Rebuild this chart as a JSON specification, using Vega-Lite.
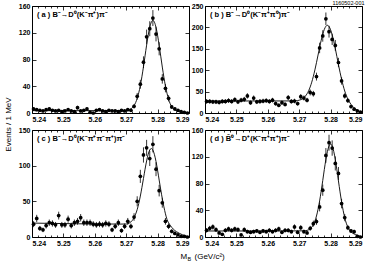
{
"$schema":"https://vega.github.io/schema/vega-lite/v6.json",
"padding":{"left":3,"top":0,"right":0,"bottom":0},
"background":"white",
"bounds":"flush",
"columns":2,
"spacing":{"row":17,"column":16},
"datasets":{
"pa":[{"m":5.2405,"n":6,"e":2.4},{"m":5.2415,"n":5,"e":2.2},{"m":5.2425,"n":4,"e":2},{"m":5.2435,"n":3,"e":1.7},{"m":5.2445,"n":5,"e":2.2},{"m":5.2455,"n":6,"e":2.4},{"m":5.2465,"n":4,"e":2},{"m":5.2475,"n":3,"e":1.7},{"m":5.2485,"n":4,"e":2},{"m":5.2495,"n":2,"e":1.4},{"m":5.2505,"n":3,"e":1.7},{"m":5.2515,"n":5,"e":2.2},{"m":5.2525,"n":3,"e":1.7},{"m":5.2535,"n":2,"e":1.4},{"m":5.2545,"n":8,"e":2.8},{"m":5.2555,"n":3,"e":1.7},{"m":5.2565,"n":4,"e":2},{"m":5.2575,"n":6,"e":2.4},{"m":5.2585,"n":1,"e":1},{"m":5.2595,"n":0,"e":0},{"m":5.2605,"n":4,"e":2},{"m":5.2615,"n":5,"e":2.2},{"m":5.2625,"n":3,"e":1.7},{"m":5.2635,"n":2,"e":1.4},{"m":5.2645,"n":4,"e":2},{"m":5.2655,"n":3,"e":1.7},{"m":5.2665,"n":3,"e":1.7},{"m":5.2675,"n":2,"e":1.4},{"m":5.2685,"n":4,"e":2},{"m":5.2695,"n":3,"e":1.7},{"m":5.2705,"n":5,"e":2.2},{"m":5.2715,"n":4,"e":2},{"m":5.2725,"n":10,"e":3.2},{"m":5.2735,"n":25,"e":5},{"m":5.2745,"n":43,"e":6.6},{"m":5.2755,"n":76,"e":8.7},{"m":5.2765,"n":114,"e":10.7},{"m":5.2775,"n":126,"e":11.2},{"m":5.2785,"n":142,"e":11.9},{"m":5.2795,"n":118,"e":10.9},{"m":5.2805,"n":96,"e":9.8},{"m":5.2815,"n":51,"e":7.1},{"m":5.2825,"n":37,"e":6.1},{"m":5.2835,"n":22,"e":4.7},{"m":5.2845,"n":9,"e":3},{"m":5.2855,"n":6,"e":2.4},{"m":5.2865,"n":4,"e":2},{"m":5.2875,"n":2,"e":1.4},{"m":5.2885,"n":1,"e":1},{"m":5.2895,"n":0,"e":0}],
"pb":[{"m":5.2405,"n":27,"e":5.2},{"m":5.2415,"n":27,"e":5.2},{"m":5.2425,"n":26,"e":5.1},{"m":5.2435,"n":26,"e":5.1},{"m":5.2445,"n":25,"e":5},{"m":5.2455,"n":27,"e":5.2},{"m":5.2465,"n":27,"e":5.2},{"m":5.2475,"n":29,"e":5.4},{"m":5.2485,"n":27,"e":5.2},{"m":5.2495,"n":31,"e":5.6},{"m":5.2505,"n":26,"e":5.1},{"m":5.2515,"n":30,"e":5.5},{"m":5.2525,"n":32,"e":5.7},{"m":5.2535,"n":40,"e":6.3},{"m":5.2545,"n":24,"e":4.9},{"m":5.2555,"n":35,"e":5.9},{"m":5.2565,"n":26,"e":5.1},{"m":5.2575,"n":27,"e":5.2},{"m":5.2585,"n":28,"e":5.3},{"m":5.2595,"n":29,"e":5.4},{"m":5.2605,"n":27,"e":5.2},{"m":5.2615,"n":30,"e":5.5},{"m":5.2625,"n":22,"e":4.7},{"m":5.2635,"n":18,"e":4.2},{"m":5.2645,"n":24,"e":4.9},{"m":5.2655,"n":20,"e":4.5},{"m":5.2665,"n":36,"e":6},{"m":5.2675,"n":27,"e":5.2},{"m":5.2685,"n":28,"e":5.3},{"m":5.2695,"n":22,"e":4.7},{"m":5.2705,"n":38,"e":6.2},{"m":5.2715,"n":35,"e":5.9},{"m":5.2725,"n":30,"e":5.5},{"m":5.2735,"n":48,"e":6.9},{"m":5.2745,"n":45,"e":6.7},{"m":5.2755,"n":85,"e":9.2},{"m":5.2765,"n":152,"e":12.3},{"m":5.2775,"n":180,"e":13.4},{"m":5.2785,"n":220,"e":14.8},{"m":5.2795,"n":190,"e":13.8},{"m":5.2805,"n":172,"e":13.1},{"m":5.2815,"n":158,"e":12.6},{"m":5.2825,"n":118,"e":10.9},{"m":5.2835,"n":75,"e":8.7},{"m":5.2845,"n":40,"e":6.3},{"m":5.2855,"n":29,"e":5.4},{"m":5.2865,"n":15,"e":3.9},{"m":5.2875,"n":9,"e":3},{"m":5.2885,"n":5,"e":2.2},{"m":5.2895,"n":2,"e":1.4}],
"pc":[{"m":5.2405,"n":18,"e":4.2},{"m":5.2415,"n":26,"e":5.1},{"m":5.2425,"n":12,"e":3.5},{"m":5.2435,"n":10,"e":3.2},{"m":5.2445,"n":16,"e":4},{"m":5.2455,"n":20,"e":4.5},{"m":5.2465,"n":19,"e":4.4},{"m":5.2475,"n":17,"e":4.1},{"m":5.2485,"n":30,"e":5.5},{"m":5.2495,"n":17,"e":4.1},{"m":5.2505,"n":17,"e":4.1},{"m":5.2515,"n":25,"e":5},{"m":5.2525,"n":16,"e":4},{"m":5.2535,"n":20,"e":4.5},{"m":5.2545,"n":22,"e":4.7},{"m":5.2555,"n":27,"e":5.2},{"m":5.2565,"n":20,"e":4.5},{"m":5.2575,"n":20,"e":4.5},{"m":5.2585,"n":20,"e":4.5},{"m":5.2595,"n":18,"e":4.2},{"m":5.2605,"n":17,"e":4.1},{"m":5.2615,"n":18,"e":4.2},{"m":5.2625,"n":17,"e":4.1},{"m":5.2635,"n":19,"e":4.4},{"m":5.2645,"n":18,"e":4.2},{"m":5.2655,"n":10,"e":3.2},{"m":5.2665,"n":15,"e":3.9},{"m":5.2675,"n":20,"e":4.5},{"m":5.2685,"n":9,"e":3},{"m":5.2695,"n":15,"e":3.9},{"m":5.2705,"n":22,"e":4.7},{"m":5.2715,"n":15,"e":3.9},{"m":5.2725,"n":28,"e":5.3},{"m":5.2735,"n":50,"e":7.1},{"m":5.2745,"n":85,"e":9.2},{"m":5.2755,"n":115,"e":10.7},{"m":5.2765,"n":125,"e":11.2},{"m":5.2775,"n":110,"e":10.5},{"m":5.2785,"n":130,"e":11.4},{"m":5.2795,"n":95,"e":9.7},{"m":5.2805,"n":65,"e":8.1},{"m":5.2815,"n":48,"e":6.9},{"m":5.2825,"n":22,"e":4.7},{"m":5.2835,"n":15,"e":3.9},{"m":5.2845,"n":8,"e":2.8},{"m":5.2855,"n":5,"e":2.2},{"m":5.2865,"n":3,"e":1.7},{"m":5.2875,"n":1,"e":1},{"m":5.2885,"n":1,"e":1},{"m":5.2895,"n":0,"e":0}],
"pd":[{"m":5.2405,"n":10,"e":3.2},{"m":5.2415,"n":13,"e":3.6},{"m":5.2425,"n":15,"e":3.9},{"m":5.2435,"n":11,"e":3.3},{"m":5.2445,"n":6,"e":2.4},{"m":5.2455,"n":4,"e":2},{"m":5.2465,"n":10,"e":3.2},{"m":5.2475,"n":12,"e":3.5},{"m":5.2485,"n":10,"e":3.2},{"m":5.2495,"n":12,"e":3.5},{"m":5.2505,"n":11,"e":3.3},{"m":5.2515,"n":3,"e":1.7},{"m":5.2525,"n":11,"e":3.3},{"m":5.2535,"n":8,"e":2.8},{"m":5.2545,"n":7,"e":2.6},{"m":5.2555,"n":8,"e":2.8},{"m":5.2565,"n":9,"e":3},{"m":5.2575,"n":7,"e":2.6},{"m":5.2585,"n":9,"e":3},{"m":5.2595,"n":8,"e":2.8},{"m":5.2605,"n":10,"e":3.2},{"m":5.2615,"n":8,"e":2.8},{"m":5.2625,"n":10,"e":3.2},{"m":5.2635,"n":12,"e":3.5},{"m":5.2645,"n":7,"e":2.6},{"m":5.2655,"n":10,"e":3.2},{"m":5.2665,"n":10,"e":3.2},{"m":5.2675,"n":8,"e":2.8},{"m":5.2685,"n":15,"e":3.9},{"m":5.2695,"n":7,"e":2.6},{"m":5.2705,"n":14,"e":3.7},{"m":5.2715,"n":8,"e":2.8},{"m":5.2725,"n":6,"e":2.4},{"m":5.2735,"n":13,"e":3.6},{"m":5.2745,"n":20,"e":4.5},{"m":5.2755,"n":23,"e":4.8},{"m":5.2765,"n":45,"e":6.7},{"m":5.2775,"n":70,"e":8.4},{"m":5.2785,"n":122,"e":11},{"m":5.2795,"n":141,"e":11.9},{"m":5.2805,"n":133,"e":11.5},{"m":5.2815,"n":110,"e":10.5},{"m":5.2825,"n":95,"e":9.7},{"m":5.2835,"n":50,"e":7.1},{"m":5.2845,"n":29,"e":5.4},{"m":5.2855,"n":14,"e":3.7},{"m":5.2865,"n":9,"e":3},{"m":5.2875,"n":8,"e":2.8},{"m":5.2885,"n":1,"e":1},{"m":5.2895,"n":0,"e":0}],
"ca":[{"m":5.24,"f":3.5},{"m":5.255,"f":3.5},{"m":5.2685,"f":3.6},{"m":5.2695,"f":3.7},{"m":5.2705,"f":4.3},{"m":5.2715,"f":6.2},{"m":5.2725,"f":11.1},{"m":5.273,"f":15.5},{"m":5.2735,"f":21.8},{"m":5.274,"f":30.2},{"m":5.2745,"f":41},{"m":5.275,"f":54.2},{"m":5.2755,"f":69.2},{"m":5.276,"f":85.4},{"m":5.2765,"f":101.5},{"m":5.277,"f":116.3},{"m":5.2775,"f":128.1},{"m":5.278,"f":135.8},{"m":5.2785,"f":138.5},{"m":5.279,"f":135.7},{"m":5.2795,"f":127.9},{"m":5.28,"f":116},{"m":5.2805,"f":101},{"m":5.281,"f":85},{"m":5.2815,"f":68.7},{"m":5.282,"f":53.5},{"m":5.2825,"f":40.3},{"m":5.283,"f":29.3},{"m":5.2835,"f":20.5},{"m":5.284,"f":14},{"m":5.2845,"f":9.3},{"m":5.2855,"f":4.6},{"m":5.2865,"f":2.5},{"m":5.2875,"f":1.5},{"m":5.2885,"f":0.7},{"m":5.29,"f":0}],
"cb":[{"m":5.24,"f":28},{"m":5.268,"f":28.2},{"m":5.269,"f":28.7},{"m":5.27,"f":29.9},{"m":5.271,"f":33.1},{"m":5.272,"f":39.7},{"m":5.273,"f":51.9},{"m":5.2735,"f":60.9},{"m":5.274,"f":72.1},{"m":5.2745,"f":85.5},{"m":5.275,"f":100.7},{"m":5.2755,"f":117.6},{"m":5.276,"f":135.4},{"m":5.2765,"f":153.1},{"m":5.277,"f":169.8},{"m":5.2775,"f":184.1},{"m":5.278,"f":195.4},{"m":5.2785,"f":202.5},{"m":5.279,"f":205},{"m":5.2795,"f":202},{"m":5.28,"f":194.4},{"m":5.2805,"f":182.6},{"m":5.281,"f":167.8},{"m":5.2815,"f":150.6},{"m":5.282,"f":131.9},{"m":5.2825,"f":113.1},{"m":5.283,"f":95.2},{"m":5.2835,"f":78.8},{"m":5.284,"f":64.1},{"m":5.2845,"f":51.4},{"m":5.285,"f":40.9},{"m":5.286,"f":25.7},{"m":5.287,"f":15.6},{"m":5.288,"f":8.9},{"m":5.289,"f":4.2},{"m":5.29,"f":0}],
"cc":[{"m":5.24,"f":19.5},{"m":5.255,"f":18.5},{"m":5.268,"f":18.1},{"m":5.27,"f":18.2},{"m":5.271,"f":19.6},{"m":5.272,"f":23.5},{"m":5.2725,"f":26.9},{"m":5.273,"f":32},{"m":5.2735,"f":38.5},{"m":5.274,"f":46.9},{"m":5.2745,"f":57.4},{"m":5.275,"f":69.3},{"m":5.2755,"f":82.1},{"m":5.276,"f":94.9},{"m":5.2765,"f":106.6},{"m":5.277,"f":116},{"m":5.2775,"f":122},{"m":5.278,"f":124},{"m":5.2785,"f":121.8},{"m":5.279,"f":115.4},{"m":5.2795,"f":105.8},{"m":5.28,"f":93.4},{"m":5.2805,"f":79.8},{"m":5.281,"f":66.4},{"m":5.2815,"f":53.8},{"m":5.282,"f":42.3},{"m":5.2825,"f":32.5},{"m":5.283,"f":24.6},{"m":5.2835,"f":19.9},{"m":5.284,"f":16.5},{"m":5.285,"f":11},{"m":5.286,"f":7.5},{"m":5.287,"f":5},{"m":5.288,"f":3},{"m":5.29,"f":0}],
"cd":[{"m":5.24,"f":9},{"m":5.26,"f":9},{"m":5.271,"f":9.2},{"m":5.272,"f":9.5},{"m":5.273,"f":10.8},{"m":5.274,"f":14.7},{"m":5.2745,"f":18.4},{"m":5.275,"f":23.8},{"m":5.2755,"f":31.4},{"m":5.276,"f":41.4},{"m":5.2765,"f":53.9},{"m":5.277,"f":68.5},{"m":5.2775,"f":84.5},{"m":5.278,"f":100.9},{"m":5.2785,"f":116},{"m":5.279,"f":128.2},{"m":5.2795,"f":136.2},{"m":5.28,"f":139},{"m":5.2805,"f":136},{"m":5.281,"f":128},{"m":5.2815,"f":115.8},{"m":5.282,"f":100.4},{"m":5.2825,"f":83.8},{"m":5.283,"f":67.5},{"m":5.2835,"f":52.6},{"m":5.284,"f":39.6},{"m":5.2845,"f":28.8},{"m":5.285,"f":20.6},{"m":5.2855,"f":14.7},{"m":5.286,"f":10.5},{"m":5.287,"f":5.8},{"m":5.288,"f":3.5},{"m":5.289,"f":1.8},{"m":5.29,"f":0}]
},
"concat":[
{"width":157,"height":107,
"layer":[
{"data":{"name":"ca"},"mark":{"type":"line","color":"black","strokeWidth":0.9,"interpolate":"monotone"},
"encoding":{"x":{"field":"m","type":"quantitative","scale":{"domain":[5.24,5.29],"nice":false,"zero":false},"axis":{"orient":"top","values":[5.24,5.25,5.26,5.27,5.28,5.29],"labels":false,"title":null,"tickSize":-4}},
"y":{"field":"f","type":"quantitative","scale":{"domain":[0,160],"nice":false},"axis":{"orient":"right","values":[0,40,80,120,160],"labels":false,"title":null,"tickSize":-4}}}},
{"data":{"name":"pa"},"mark":{"type":"errorbar","ticks":false,"color":"black","thickness":0.8},
"encoding":{"x":{"field":"m","type":"quantitative","scale":{"domain":[5.24,5.29],"nice":false,"zero":false},"axis":{"orient":"bottom","values":[5.242,5.244,5.246,5.248,5.252,5.254,5.256,5.258,5.262,5.264,5.266,5.268,5.272,5.274,5.276,5.278,5.282,5.284,5.286,5.288],"labels":false,"title":null,"tickSize":-2}},
"y":{"field":"n","type":"quantitative","scale":{"domain":[0,160],"nice":false},"axis":null},"yError":{"field":"e"}}},
{"data":{"name":"pa"},"mark":{"type":"point","filled":true,"color":"black","size":14,"opacity":1},
"encoding":{"x":{"field":"m","type":"quantitative","scale":{"domain":[5.24,5.29],"nice":false,"zero":false},"axis":{"orient":"bottom","values":[5.24,5.25,5.26,5.27,5.28,5.29],"format":".2f","title":null,"tickSize":-4,"labelPadding":6}},
"y":{"field":"n","type":"quantitative","scale":{"domain":[0,160],"nice":false},"axis":{"orient":"left","values":[0,40,80,120,160],"title":null,"tickSize":-4,"labelPadding":6}}}},
{"data":{"values":[{"m":5.2416,"n":146,"t":"( a )  B⁻→D⁰(K⁻π⁺)π⁻"}]},"mark":{"type":"text","align":"left","baseline":"middle","fontSize":7.5,"fontWeight":"bold","font":"Liberation Sans"},
"encoding":{"x":{"field":"m","type":"quantitative","scale":{"domain":[5.24,5.29],"nice":false,"zero":false},"axis":{"orient":"top","values":[5.242,5.244,5.246,5.248,5.252,5.254,5.256,5.258,5.262,5.264,5.266,5.268,5.272,5.274,5.276,5.278,5.282,5.284,5.286,5.288],"labels":false,"title":null,"tickSize":-2}},
"y":{"field":"n","type":"quantitative","scale":{"domain":[0,160],"nice":false},"axis":null},"text":{"field":"t"}}}
],
"resolve":{"axis":{"x":"independent","y":"independent"}}},
{"width":157,"height":107,
"layer":[
{"data":{"name":"cb"},"mark":{"type":"line","color":"black","strokeWidth":0.9,"interpolate":"monotone"},
"encoding":{"x":{"field":"m","type":"quantitative","scale":{"domain":[5.24,5.29],"nice":false,"zero":false},"axis":{"orient":"top","values":[5.24,5.25,5.26,5.27,5.28,5.29],"labels":false,"tickSize":-4,"title":"1160502-001","titleX":159,"titleY":-0.5,"titleAlign":"right","titleBaseline":"bottom","titleFontSize":5.5}},
"y":{"field":"f","type":"quantitative","scale":{"domain":[0,250],"nice":false},"axis":{"orient":"right","values":[0,50,100,150,200,250],"labels":false,"title":null,"tickSize":-4}}}},
{"data":{"name":"pb"},"mark":{"type":"errorbar","ticks":false,"color":"black","thickness":0.8},
"encoding":{"x":{"field":"m","type":"quantitative","scale":{"domain":[5.24,5.29],"nice":false,"zero":false},"axis":{"orient":"bottom","values":[5.242,5.244,5.246,5.248,5.252,5.254,5.256,5.258,5.262,5.264,5.266,5.268,5.272,5.274,5.276,5.278,5.282,5.284,5.286,5.288],"labels":false,"title":null,"tickSize":-2}},
"y":{"field":"n","type":"quantitative","scale":{"domain":[0,250],"nice":false},"axis":null},"yError":{"field":"e"}}},
{"data":{"name":"pb"},"mark":{"type":"point","filled":true,"color":"black","size":14,"opacity":1},
"encoding":{"x":{"field":"m","type":"quantitative","scale":{"domain":[5.24,5.29],"nice":false,"zero":false},"axis":{"orient":"bottom","values":[5.24,5.25,5.26,5.27,5.28,5.29],"format":".2f","title":null,"tickSize":-4,"labelPadding":6}},
"y":{"field":"n","type":"quantitative","scale":{"domain":[0,250],"nice":false},"axis":{"orient":"left","values":[0,50,100,150,200,250],"title":null,"tickSize":-4,"labelPadding":6}}}},
{"data":{"values":[{"m":5.2416,"n":228,"t":"( b )  B⁻→D⁰(K⁻π⁺π⁰)π⁻"}]},"mark":{"type":"text","align":"left","baseline":"middle","fontSize":7.5,"fontWeight":"bold","font":"Liberation Sans"},
"encoding":{"x":{"field":"m","type":"quantitative","scale":{"domain":[5.24,5.29],"nice":false,"zero":false},"axis":{"orient":"top","values":[5.242,5.244,5.246,5.248,5.252,5.254,5.256,5.258,5.262,5.264,5.266,5.268,5.272,5.274,5.276,5.278,5.282,5.284,5.286,5.288],"labels":false,"title":null,"tickSize":-2}},
"y":{"field":"n","type":"quantitative","scale":{"domain":[0,250],"nice":false},"axis":null},"text":{"field":"t"}}}
],
"resolve":{"axis":{"x":"independent","y":"independent"}}},
{"width":157,"height":107,
"layer":[
{"data":{"name":"cc"},"mark":{"type":"line","color":"black","strokeWidth":0.9,"interpolate":"monotone"},
"encoding":{"x":{"field":"m","type":"quantitative","scale":{"domain":[5.24,5.29],"nice":false,"zero":false},"axis":{"orient":"top","values":[5.24,5.25,5.26,5.27,5.28,5.29],"labels":false,"title":null,"tickSize":-4}},
"y":{"field":"f","type":"quantitative","scale":{"domain":[0,150],"nice":false},"axis":{"orient":"right","values":[0,50,100,150],"labels":false,"title":null,"tickSize":-4}}}},
{"data":{"name":"pc"},"mark":{"type":"errorbar","ticks":false,"color":"black","thickness":0.8},
"encoding":{"x":{"field":"m","type":"quantitative","scale":{"domain":[5.24,5.29],"nice":false,"zero":false},"axis":{"orient":"bottom","values":[5.242,5.244,5.246,5.248,5.252,5.254,5.256,5.258,5.262,5.264,5.266,5.268,5.272,5.274,5.276,5.278,5.282,5.284,5.286,5.288],"labels":false,"title":null,"tickSize":-2}},
"y":{"field":"n","type":"quantitative","scale":{"domain":[0,150],"nice":false},"axis":null},"yError":{"field":"e"}}},
{"data":{"name":"pc"},"mark":{"type":"point","filled":true,"color":"black","size":14,"opacity":1},
"encoding":{"x":{"field":"m","type":"quantitative","scale":{"domain":[5.24,5.29],"nice":false,"zero":false},"axis":{"orient":"bottom","values":[5.24,5.25,5.26,5.27,5.28,5.29],"format":".2f","tickSize":-4,"labelPadding":6,"title":"M","titleX":148,"titleY":21,"titleAlign":"left","titleBaseline":"alphabetic","titleFontSize":8}},
"y":{"field":"n","type":"quantitative","scale":{"domain":[0,150],"nice":false},"axis":{"orient":"left","values":[0,50,100,150],"tickSize":-4,"labelPadding":6,"title":"Events / 1 MeV","titleX":-20,"titleY":-6,"titleAngle":270,"titleAlign":"center","titleBaseline":"bottom","titleFontSize":8}}}},
{"data":{"values":[{"m":5.2416,"n":137,"t":"( c )  B⁻→D⁰(K⁻π⁺π⁻π⁺)π⁻"}]},"mark":{"type":"text","align":"left","baseline":"middle","fontSize":7.5,"fontWeight":"bold","font":"Liberation Sans"},
"encoding":{"x":{"field":"m","type":"quantitative","scale":{"domain":[5.24,5.29],"nice":false,"zero":false},"axis":{"orient":"top","values":[5.242,5.244,5.246,5.248,5.252,5.254,5.256,5.258,5.262,5.264,5.266,5.268,5.272,5.274,5.276,5.278,5.282,5.284,5.286,5.288],"labels":false,"title":null,"tickSize":-2}},
"y":{"field":"n","type":"quantitative","scale":{"domain":[0,150],"nice":false},"axis":null},"text":{"field":"t"}}}
],
"resolve":{"axis":{"x":"independent","y":"independent"}}},
{"width":157,"height":107,
"layer":[
{"data":{"name":"cd"},"mark":{"type":"line","color":"black","strokeWidth":0.9,"interpolate":"monotone"},
"encoding":{"x":{"field":"m","type":"quantitative","scale":{"domain":[5.24,5.29],"nice":false,"zero":false},"axis":{"orient":"top","values":[5.24,5.25,5.26,5.27,5.28,5.29],"labels":false,"tickSize":-4,"title":"B","titleX":-18,"titleY":130,"titleAlign":"left","titleBaseline":"alphabetic","titleFontSize":5.5}},
"y":{"field":"f","type":"quantitative","scale":{"domain":[0,160],"nice":false},"axis":{"orient":"right","values":[0,40,80,120,160],"labels":false,"title":null,"tickSize":-4}}}},
{"data":{"name":"pd"},"mark":{"type":"errorbar","ticks":false,"color":"black","thickness":0.8},
"encoding":{"x":{"field":"m","type":"quantitative","scale":{"domain":[5.24,5.29],"nice":false,"zero":false},"axis":{"orient":"bottom","values":[5.242,5.244,5.246,5.248,5.252,5.254,5.256,5.258,5.262,5.264,5.266,5.268,5.272,5.274,5.276,5.278,5.282,5.284,5.286,5.288],"labels":false,"title":null,"tickSize":-2}},
"y":{"field":"n","type":"quantitative","scale":{"domain":[0,160],"nice":false},"axis":null},"yError":{"field":"e"}}},
{"data":{"name":"pd"},"mark":{"type":"point","filled":true,"color":"black","size":14,"opacity":1},
"encoding":{"x":{"field":"m","type":"quantitative","scale":{"domain":[5.24,5.29],"nice":false,"zero":false},"axis":{"orient":"bottom","values":[5.24,5.25,5.26,5.27,5.28,5.29],"format":".2f","tickSize":-4,"labelPadding":6,"title":"(GeV/c²)","titleX":-11,"titleY":21,"titleAlign":"left","titleBaseline":"alphabetic","titleFontSize":8}},
"y":{"field":"n","type":"quantitative","scale":{"domain":[0,160],"nice":false},"axis":{"orient":"left","values":[0,40,80,120,160],"title":null,"tickSize":-4,"labelPadding":6}}}},
{"data":{"values":[{"m":5.2416,"n":146,"t":"( d )  B̄⁰→D⁺(K⁻π⁺π⁺)π⁻"}]},"mark":{"type":"text","align":"left","baseline":"middle","fontSize":7.5,"fontWeight":"bold","font":"Liberation Sans"},
"encoding":{"x":{"field":"m","type":"quantitative","scale":{"domain":[5.24,5.29],"nice":false,"zero":false},"axis":{"orient":"top","values":[5.242,5.244,5.246,5.248,5.252,5.254,5.256,5.258,5.262,5.264,5.266,5.268,5.272,5.274,5.276,5.278,5.282,5.284,5.286,5.288],"labels":false,"title":null,"tickSize":-2}},
"y":{"field":"n","type":"quantitative","scale":{"domain":[0,160],"nice":false},"axis":null},"text":{"field":"t"}}}
],
"resolve":{"axis":{"x":"independent","y":"independent"}}}
],
"config":{"font":"Liberation Sans","view":{"stroke":"black","strokeWidth":1},
"axis":{"domain":false,"grid":false,"tickColor":"black","tickWidth":0.8,"labelColor":"black","labelFont":"Liberation Sans","labelFontSize":7,"labelFontWeight":"bold","titleFont":"Liberation Sans","titleFontSize":8,"titleFontWeight":"normal","titleColor":"black"}}
}
